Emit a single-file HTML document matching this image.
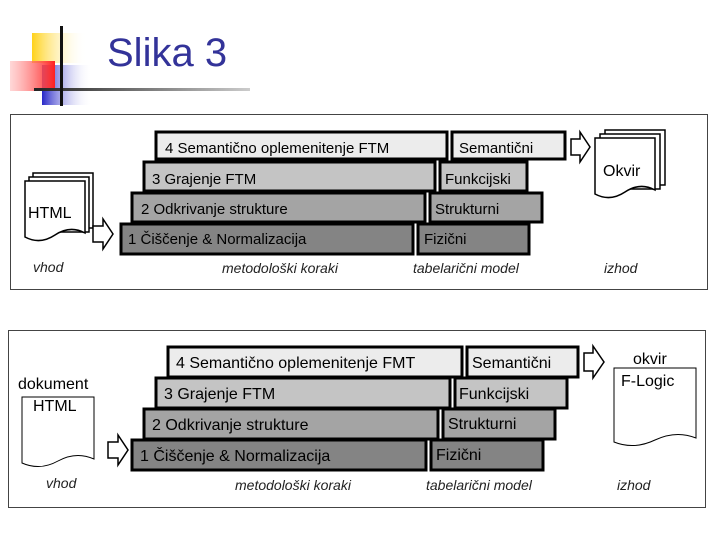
<!DOCTYPE html>
<html><head><meta charset="utf-8"><style>
html,body{margin:0;padding:0;background:#fff;}
svg{display:block;font-family:"Liberation Sans",Arial,sans-serif;}
</style></head><body>
<svg width="720" height="540" viewBox="0 0 720 540" xmlns="http://www.w3.org/2000/svg">
<defs>
<linearGradient id="gy" x1="0" x2="1"><stop offset="0" stop-color="#ffd21a"/><stop offset="1" stop-color="#fff" stop-opacity="0"/></linearGradient>
<linearGradient id="gr" x1="1" x2="0"><stop offset="0" stop-color="#ff2020"/><stop offset="1" stop-color="#ffb0b0" stop-opacity="0.5"/></linearGradient>
<linearGradient id="gb" x1="0" x2="1"><stop offset="0" stop-color="#2828c8"/><stop offset="1" stop-color="#fff" stop-opacity="0"/></linearGradient>
<linearGradient id="gl" x1="0" x2="1"><stop offset="0" stop-color="#222"/><stop offset="1" stop-color="#ccc"/></linearGradient>
</defs>
<!-- logo -->
<rect x="32" y="33" width="55" height="30" fill="url(#gy)"/>
<rect x="42" y="65" width="50" height="40" fill="url(#gb)"/>
<rect x="10" y="61" width="45" height="30" fill="url(#gr)"/>
<rect x="34" y="88" width="216" height="3" fill="url(#gl)"/>
<rect x="60" y="26" width="3" height="80" fill="#111"/>
<text x="107" y="66" font-size="40" fill="#333399">Slika 3</text>

<!-- top panel -->
<rect x="10.5" y="114.5" width="697" height="175" fill="#fff" stroke="#444" stroke-width="1"/>
<g stroke="#000" stroke-width="3">
<rect x="156" y="132" width="291" height="27" fill="#ececec"/>
<rect x="452" y="132" width="113" height="27" fill="#ececec"/>
<rect x="144" y="162" width="291" height="29" fill="#c4c4c4"/>
<rect x="440" y="162" width="87" height="29" fill="#c4c4c4"/>
<rect x="132" y="193" width="293" height="29" fill="#a4a4a4"/>
<rect x="430" y="193" width="112" height="29" fill="#a4a4a4"/>
<rect x="121" y="224" width="292" height="30" fill="#848484"/>
<rect x="418" y="224" width="111" height="30" fill="#848484"/>
</g>
<g font-size="15" fill="#000">
<text x="165" y="153">4 Semantično oplemenitenje FTM</text>
<text x="459" y="153">Semantični</text>
<text x="152" y="184">3 Grajenje FTM</text>
<text x="445" y="184">Funkcijski</text>
<text x="141" y="214">2 Odkrivanje strukture</text>
<text x="435" y="214">Strukturni</text>
<text x="128" y="244">1 Čiščenje &amp; Normalizacija</text>
<text x="424" y="244">Fizični</text>
</g>
<!-- HTML doc stack -->
<g fill="#fff" stroke="#000" stroke-width="1.5">
<path d="M33 173h60v55h-60z"/>
<path d="M29 177h60v55h-60z"/>
<path d="M25 181h60v52q-15 -8 -30 2t-30 2z"/>
</g>
<text x="28" y="218" font-size="16">HTML</text>
<path d="M93 226h10v-7l10 15l-10 15v-7h-10z" fill="#fff" stroke="#000" stroke-width="1.5"/>
<!-- arrow to okvir -->
<path d="M571 139h9v-7l10 15l-10 15v-7h-9z" fill="#fff" stroke="#000" stroke-width="1.5"/>
<g fill="#fff" stroke="#000" stroke-width="1.5">
<path d="M605 130h60v55h-60z"/>
<path d="M600 134h60v55h-60z"/>
<path d="M595 138h60v52q-15 -8 -30 2t-30 2z"/>
</g>
<text x="603" y="176" font-size="16">Okvir</text>
<g font-size="14" font-style="italic" fill="#222">
<text x="33" y="272">vhod</text>
<text x="222" y="273">metodološki koraki</text>
<text x="413" y="273">tabelarični model</text>
<text x="604" y="273">izhod</text>
</g>

<!-- bottom panel -->
<rect x="8.5" y="330.5" width="697" height="177" fill="#fff" stroke="#444" stroke-width="1"/>
<g stroke="#000" stroke-width="3">
<rect x="168" y="347" width="294" height="30" fill="#ececec"/>
<rect x="467" y="347" width="111" height="30" fill="#ececec"/>
<rect x="156" y="378" width="294" height="30" fill="#c4c4c4"/>
<rect x="455" y="378" width="112" height="30" fill="#c4c4c4"/>
<rect x="144" y="409" width="294" height="30" fill="#a4a4a4"/>
<rect x="443" y="409" width="112" height="30" fill="#a4a4a4"/>
<rect x="132" y="440" width="294" height="30" fill="#848484"/>
<rect x="431" y="440" width="112" height="30" fill="#848484"/>
</g>
<g font-size="16" fill="#000">
<text x="176" y="368">4 Semantično oplemenitenje FMT</text>
<text x="472" y="368">Semantični</text>
<text x="164" y="399">3 Grajenje FTM</text>
<text x="459" y="399">Funkcijski</text>
<text x="152" y="430">2 Odkrivanje strukture</text>
<text x="448" y="429">Strukturni</text>
<text x="140" y="461">1 Čiščenje &amp; Normalizacija</text>
<text x="436" y="460">Fizični</text>
</g>
<text x="18" y="389" font-size="16">dokument</text>
<path d="M22 397h72v62q-18 -8 -36 2t-36 2z" fill="#fff" stroke="#000" stroke-width="1"/>
<text x="33" y="411" font-size="16">HTML</text>
<path d="M108 442h10v-7l10 15l-10 15v-7h-10z" fill="#fff" stroke="#000" stroke-width="1.5"/>
<path d="M584 353h9v-7l11 16l-11 16v-7h-9z" fill="#fff" stroke="#000" stroke-width="1.5"/>
<text x="633" y="364" font-size="16">okvir</text>
<path d="M614 368h82v70q-20 -8 -41 2t-41 2z" fill="#fff" stroke="#000" stroke-width="1"/>
<text x="621" y="386" font-size="16">F-Logic</text>
<g font-size="14" font-style="italic" fill="#222">
<text x="46" y="488">vhod</text>
<text x="235" y="490">metodološki koraki</text>
<text x="426" y="490">tabelarični model</text>
<text x="617" y="490">izhod</text>
</g>
</svg>
</body></html>
